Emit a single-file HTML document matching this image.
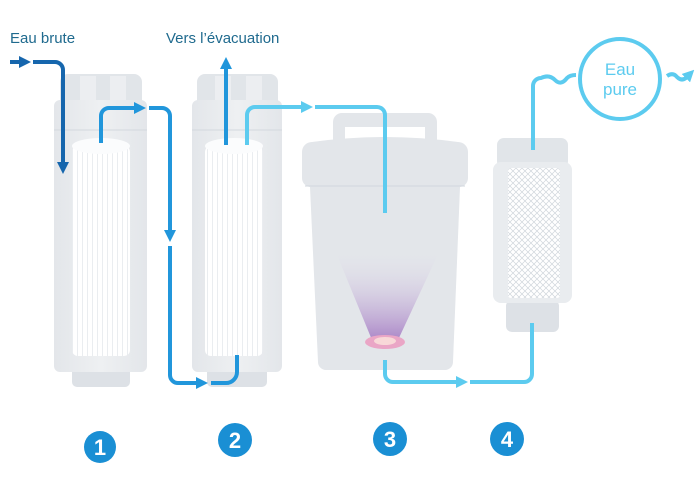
<!DOCTYPE html>
<html><head><meta charset="utf-8"><style>
html,body{margin:0;padding:0;background:#fff;}
svg{display:block;}
text{font-family:"Liberation Sans",sans-serif;}
</style></head><body>
<svg width="700" height="485" viewBox="0 0 700 485" xmlns="http://www.w3.org/2000/svg">
<defs>
<marker id="ad" markerWidth="3" markerHeight="3" refX="1.5" refY="1.5" orient="auto" markerUnits="strokeWidth"><path d="M0,0 L3,1.5 L0,3 z" fill="#1666ad"/></marker>
<marker id="ab" markerWidth="3" markerHeight="3" refX="1.5" refY="1.5" orient="auto" markerUnits="strokeWidth"><path d="M0,0 L3,1.5 L0,3 z" fill="#2196db"/></marker>
<marker id="al" markerWidth="3" markerHeight="3" refX="1.5" refY="1.5" orient="auto" markerUnits="strokeWidth"><path d="M0,0 L3,1.5 L0,3 z" fill="#5ccbef"/></marker>
<linearGradient id="cone" x1="0" y1="0" x2="0" y2="1"><stop offset="0" stop-color="#e4e2ec" stop-opacity="0"/><stop offset="1" stop-color="#a57cc4"/></linearGradient>
<linearGradient id="body" x1="0" y1="0" x2="1" y2="0"><stop offset="0" stop-color="#e3e6ea"/><stop offset="0.5" stop-color="#eef0f2"/><stop offset="1" stop-color="#e3e6ea"/></linearGradient>
<pattern id="mesh" width="6" height="6" patternUnits="userSpaceOnUse"><path d="M0,0 L6,6 M6,0 L0,6" stroke="#cfd5db" stroke-width="0.7"/></pattern>
<pattern id="ribs" width="5" height="10" patternUnits="userSpaceOnUse"><rect width="5" height="10" fill="#fff"/><rect x="2" width="0.8" height="10" fill="#e6e9ed"/></pattern>
</defs>

<text x="10" y="43" font-size="15" fill="#1f6a8e">Eau brute</text>
<text x="166" y="43" font-size="15" fill="#1f6a8e">Vers l’évacuation</text>

<!-- Filter 1 -->
<rect x="72" y="355" width="58" height="32" rx="5" fill="#dde1e6"/>
<rect x="60" y="74" width="82" height="34" rx="8" fill="#e1e5e9"/>
<rect x="80" y="76" width="16" height="24" fill="#eceef1"/><rect x="110" y="76" width="16" height="24" fill="#eceef1"/>
<rect x="54" y="100" width="93" height="272" rx="6" fill="url(#body)"/>
<line x1="54" y1="130" x2="147" y2="130" stroke="#d3d8de" stroke-width="1"/>
<rect x="72" y="146" width="58" height="210" rx="6" fill="url(#ribs)"/>
<ellipse cx="101" cy="146" rx="29" ry="8" fill="#fbfcfd"/>

<!-- Filter 2 -->
<rect x="207" y="355" width="60" height="32" rx="5" fill="#dde1e6"/>
<rect x="197" y="74" width="81" height="34" rx="8" fill="#e1e5e9"/>
<rect x="215" y="76" width="16" height="24" fill="#eceef1"/><rect x="246" y="76" width="16" height="24" fill="#eceef1"/>
<rect x="192" y="100" width="90" height="272" rx="6" fill="url(#body)"/>
<line x1="192" y1="130" x2="282" y2="130" stroke="#d3d8de" stroke-width="1"/>
<rect x="205" y="146" width="58" height="210" rx="6" fill="url(#ribs)"/>
<ellipse cx="234" cy="146" rx="29" ry="8" fill="#fbfcfd"/>

<!-- Tank -->
<path d="M333,140 V122 a9,9 0 0 1 9,-9 H428 a9,9 0 0 1 9,9 V140 H425 V127 H345 V140 z" fill="#e3e6ea"/>
<path d="M302,152 a10,10 0 0 1 10,-10 Q385,132 458,142 a10,10 0 0 1 10,10 V178 a9,9 0 0 1 -9,9 H311 a9,9 0 0 1 -9,-9 z" fill="#e3e6ea"/>
<path d="M310,187 H460 L453,362 a8,8 0 0 1 -8,8 H326 a8,8 0 0 1 -8,-8 z" fill="#e3e6ea"/>
<line x1="305" y1="186" x2="465" y2="186" stroke="#d2d7dd"/>
<path d="M335,250 H440 L398,340 H372 z" fill="url(#cone)" opacity="0.9"/>
<ellipse cx="385" cy="342" rx="20" ry="7" fill="#eaa6c6"/>
<ellipse cx="385" cy="341" rx="11" ry="4" fill="#f8d8d8"/>

<!-- Filter 4 -->
<rect x="506" y="300" width="53" height="32" rx="6" fill="#dde1e6"/>
<rect x="497" y="138" width="71" height="30" rx="7" fill="#e1e5e9"/>
<rect x="493" y="162" width="79" height="141" rx="8" fill="#e9ecef"/>
<rect x="508" y="168" width="52" height="130" rx="3" fill="#fff"/>
<rect x="508" y="168" width="52" height="130" rx="3" fill="url(#mesh)"/>

<!-- Dark blue input -->
<line x1="10" y1="62" x2="25" y2="62" stroke="#1666ad" stroke-width="4" marker-end="url(#ad)"/>
<path d="M33,62 H55 a8,8 0 0 1 8,8 V168" fill="none" stroke="#1666ad" stroke-width="4" marker-end="url(#ad)"/>

<!-- Blue -->
<path d="M101,143 V116 a8,8 0 0 1 8,-8 H140" fill="none" stroke="#2196db" stroke-width="4" marker-end="url(#ab)"/>
<path d="M149,108 H162 a8,8 0 0 1 8,8 V236" fill="none" stroke="#2196db" stroke-width="4" marker-end="url(#ab)"/>
<path d="M170,246 V375 a8,8 0 0 0 8,8 H202" fill="none" stroke="#2196db" stroke-width="4" marker-end="url(#ab)"/>
<path d="M211,383 H226 a11,11 0 0 0 11,-11 V355" fill="none" stroke="#2196db" stroke-width="4"/>
<line x1="226" y1="145" x2="226" y2="63" stroke="#2196db" stroke-width="4" marker-end="url(#ab)"/>

<!-- Light blue -->
<path d="M247,145 V115 a8,8 0 0 1 8,-8 H307" fill="none" stroke="#5ccbef" stroke-width="4" marker-end="url(#al)"/>
<path d="M315,107 H377 a8,8 0 0 1 8,8 V213" fill="none" stroke="#5ccbef" stroke-width="4"/>
<path d="M385,360 V374 a8,8 0 0 0 8,8 H462" fill="none" stroke="#5ccbef" stroke-width="4" marker-end="url(#al)"/>
<path d="M470,382 H524 a8,8 0 0 0 8,-8 V323" fill="none" stroke="#5ccbef" stroke-width="4"/>
<path d="M533,150 V86 a8,8 0 0 1 8,-8 q8,-4 14,2 q6,6 12,-2 q3,-3 9,-3" fill="none" stroke="#5ccbef" stroke-width="4"/>
<circle cx="620" cy="79" r="40" fill="none" stroke="#5ccbef" stroke-width="4"/>
<text x="620" y="75" font-size="17" fill="#5ccbef" text-anchor="middle">Eau</text>
<text x="620" y="95" font-size="17" fill="#5ccbef" text-anchor="middle">pure</text>
<path d="M667,76 q6,-4 10,1 q5,5 10,0 L690,74" fill="none" stroke="#5ccbef" stroke-width="4" marker-end="url(#al)"/>

<!-- Numbers -->
<g font-size="22" font-weight="bold" fill="#fff" text-anchor="middle">
<circle cx="100" cy="447" r="16" fill="#1a8fd4"/><text x="100" y="455">1</text>
<circle cx="235" cy="440" r="17" fill="#1a8fd4"/><text x="235" y="448">2</text>
<circle cx="390" cy="439" r="17" fill="#1a8fd4"/><text x="390" y="447">3</text>
<circle cx="507" cy="439" r="17" fill="#1a8fd4"/><text x="507" y="447">4</text>
</g>
</svg>
</body></html>
